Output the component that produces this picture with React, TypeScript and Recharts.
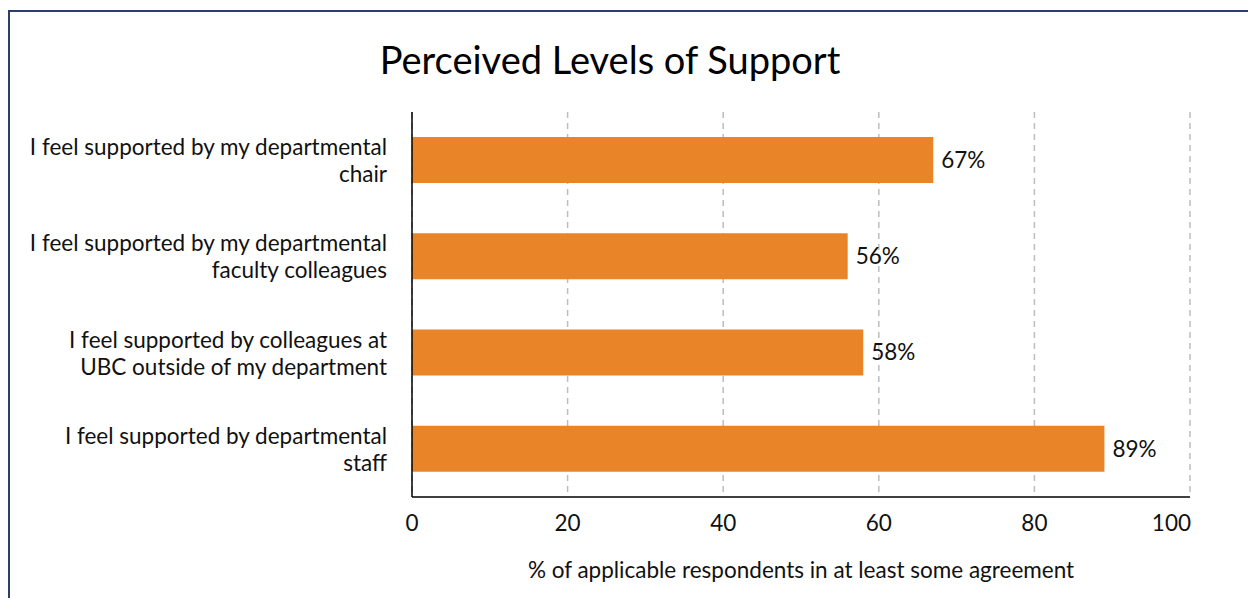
import React from "react";
import { Bar, BarChart, CartesianGrid, LabelList, Label, XAxis, YAxis } from "recharts";

const statements = [
  ["I feel supported by my departmental", "chair"],
  ["I feel supported by my departmental", "faculty colleagues"],
  ["I feel supported by colleagues at", "UBC outside of my department"],
  ["I feel supported by departmental", "staff"],
];
const agreement = [67, 56, 58, 89];
const xTicks = [0, 20, 40, 60, 80, 100];

const FONT = "Lato, 'Open Sans', sans-serif";
const FS = 22.5;

function StatementTick(props: any) {
  const { x, y, payload } = props;
  const lines = statements[payload.index] ?? [String(payload.value)];
  return (
    <text x={x - 17} y={y} textAnchor="end" fontSize={FS} fill="#111" fontFamily={FONT}>
      {lines.map((l, i) => (
        <tspan key={i} x={x - 17} dy={i === 0 ? -5 : 27}>
          {l}
        </tspan>
      ))}
    </text>
  );
}

function ValueTick(props: any) {
  const { x, y, payload, index } = props;
  const last = index === xTicks.length - 1;
  return (
    <text x={last ? x + 1 : x} y={y} dy="0.71em" textAnchor={last ? "end" : "middle"} fontSize={FS} fill="#111" fontFamily={FONT}>
      {payload.value}
    </text>
  );
}

export default function App() {
  const data = statements.map((s, i) => ({ name: s.join(" "), value: agreement[i] }));

  return (
    <div style={{ position: "absolute", left: 0, top: 0, width: 1248, height: 598, background: "#fff", overflow: "hidden", fontFamily: FONT }}>
      <div
        style={{
          position: "absolute",
          left: 8,
          top: 10,
          width: 1300,
          height: 700,
          borderLeft: "2px solid #2c3f6c",
          borderTop: "2px solid #2c3f6c",
        }}
      />
      <div style={{ position: "absolute", left: 0, top: 36, width: 1220, textAlign: "center", fontSize: 38, color: "#000" }}>
        Perceived Levels of Support
      </div>
      <div style={{ position: "absolute", left: 0, top: 0 }}>
        <BarChart
          width={1248}
          height={598}
          data={data}
          layout="vertical"
          margin={{ top: 112, right: 58, bottom: 0, left: 0 }}
          barCategoryGap="26%"
        >
          <CartesianGrid horizontal={false} stroke="#bdbdbd" strokeDasharray="6 5" strokeWidth={1.5} />
          <XAxis
            type="number"
            domain={[0, 100]}
            ticks={xTicks}
            tickLine={false}
            tickSize={0}
            tickMargin={18}
            axisLine={{ stroke: "#000", strokeWidth: 1.5 }}
            tick={<ValueTick />}
            height={101}
          >
            <Label
              value="% of applicable respondents in at least some agreement"
              position="insideBottom"
              offset={20}
              style={{ fontSize: FS, fill: "#111", fontFamily: FONT }}
            />
          </XAxis>
          <YAxis
            type="category"
            dataKey="name"
            width={412}
            tickLine={false}
            axisLine={{ stroke: "#000", strokeWidth: 1.5 }}
            tick={<StatementTick />}
            interval={0}
          />
          <Bar dataKey="value" fill="#ea8429" barSize={46} isAnimationActive={false}>
            <LabelList
              dataKey="value"
              position="right"
              offset={8}
              formatter={(v: any) => `${v}%`}
              style={{ fontSize: FS, fill: "#111", fontFamily: FONT }}
            />
          </Bar>
        </BarChart>
      </div>
    </div>
  );
}
